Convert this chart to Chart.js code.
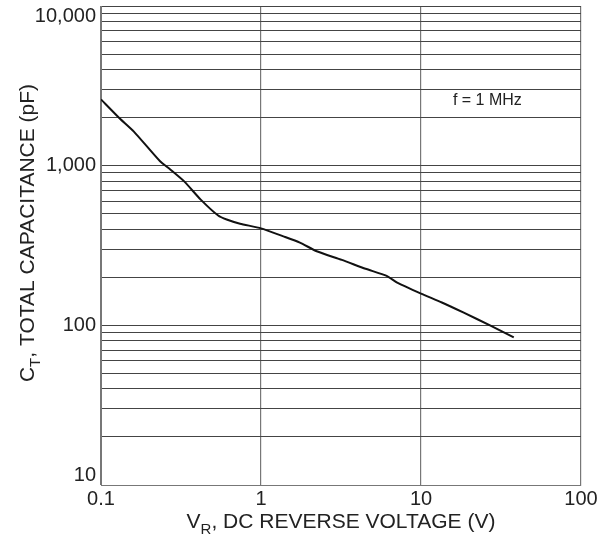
<!DOCTYPE html>
<html>
<head>
<meta charset="utf-8">
<script src="https://cdn.jsdelivr.net/npm/chart.js@4/dist/chart.umd.min.js"></script>
<style>
  body { margin: 0; background: #fff; }
</style>
</head>
<body>
<canvas id="capChart" width="597" height="536"></canvas>
<script>
// reverse voltage (V) vs total capacitance (pF)
const voltage = [0.1, 0.13, 0.16, 0.234, 0.27, 0.33, 0.42, 0.54, 0.61, 0.74, 1.0, 1.38, 1.75, 2.23, 3.2, 4.5, 6.1, 7.1, 10, 13.5, 18.5, 27, 38];
const capacitance = [2600, 1990, 1640, 1065, 950, 800, 613, 487, 460, 433, 405, 361, 330, 291, 257, 226, 204, 185, 158, 139, 120, 100, 84];

const xTicks = [0.1, 1, 10, 100];
const yTicks = [10, 20, 30, 40, 50, 60, 70, 80, 90,
                100, 200, 300, 400, 500, 600, 700, 800, 900,
                1000, 2000, 3000, 4000, 5000, 6000, 7000, 8000, 9000, 10000];
const yDecades = [10, 100, 1000, 10000];

const note = { x: 26, y: 2550, text: 'f = 1 MHz' };

const FONT = '"Liberation Sans", Arial, sans-serif';

// axis titles with subscripts + the frequency note
const titlePlugin = {
  id: 'titles',
  afterDraw(chart) {
    const ctx = chart.ctx;
    const big = '21px ' + FONT;
    const small = '15px ' + FONT;

    function drawSub(parts, cx, baseY) {
      let total = 0;
      parts.forEach(p => {
        ctx.font = p.sub ? small : big;
        total += ctx.measureText(p.t).width;
      });
      let x = cx - total / 2;
      parts.forEach(p => {
        ctx.font = p.sub ? small : big;
        ctx.fillText(p.t, x, baseY + (p.sub ? 6 : 0));
        x += ctx.measureText(p.t).width;
      });
    }

    ctx.save();
    ctx.fillStyle = '#222';
    ctx.textBaseline = 'alphabetic';
    ctx.textAlign = 'left';
    drawSub([{t: 'V'}, {t: 'R', sub: true}, {t: ', DC REVERSE VOLTAGE (V)'}], 341, 528);

    ctx.save();
    ctx.translate(34, 233);
    ctx.rotate(-Math.PI / 2);
    drawSub([{t: 'C'}, {t: 'T', sub: true}, {t: ', TOTAL CAPACITANCE (pF)'}], 0, 0);
    ctx.restore();

    ctx.font = '16px ' + FONT;
    ctx.textAlign = 'center';
    ctx.textBaseline = 'middle';
    ctx.fillText(note.text, chart.scales.x.getPixelForValue(note.x), chart.scales.y.getPixelForValue(note.y));
    ctx.restore();
  }
};

const ctx = document.getElementById('capChart').getContext('2d');

new Chart(ctx, {
  type: 'line',
  data: {
    datasets: [{
      data: voltage.map((v, i) => ({ x: v, y: capacitance[i] })),
      borderColor: '#111',
      borderWidth: 2,
      pointRadius: 0,
      tension: 0.2,
      fill: false
    }]
  },
  options: {
    responsive: false,
    animation: false,
    layout: { padding: { top: 6, right: 16, left: 0, bottom: 0 } },
    plugins: { legend: { display: false }, tooltip: { enabled: false } },
    scales: {
      x: {
        type: 'logarithmic',
        min: 0.1,
        max: 100,
        afterBuildTicks: s => { s.ticks = xTicks.map(v => ({ value: v })); },
        afterFit: s => { s.height = 51; s.paddingLeft = s.paddingRight = 0; },
        grid: { color: '#777', lineWidth: 1.2, drawTicks: false },
        border: { color: '#777' },
        ticks: {
          autoSkip: false,
          maxRotation: 0,
          padding: 4,
          color: '#222',
          font: { family: FONT, size: 20, lineHeight: 1 },
          callback: v => String(v)
        }
      },
      y: {
        type: 'logarithmic',
        min: 10,
        max: 10000,
        afterBuildTicks: s => { s.ticks = yTicks.map(v => ({ value: v })); },
        afterFit: s => { s.width = 101; s.paddingTop = s.paddingBottom = 0; },
        grid: { color: '#444', lineWidth: 1, drawTicks: false },
        border: { color: '#777' },
        ticks: {
          autoSkip: false,
          padding: 5,
          color: '#222',
          font: { family: FONT, size: 20, lineHeight: 1 },
          callback: v => {
            if (!yDecades.includes(v)) return '';
            const s = v.toLocaleString('en-US');
            if (v === 10000) return ['', s];
            if (v === 10) return [s, ''];
            return s;
          }
        }
      }
    }
  },
  plugins: [titlePlugin]
});
</script>
</body>
</html>
